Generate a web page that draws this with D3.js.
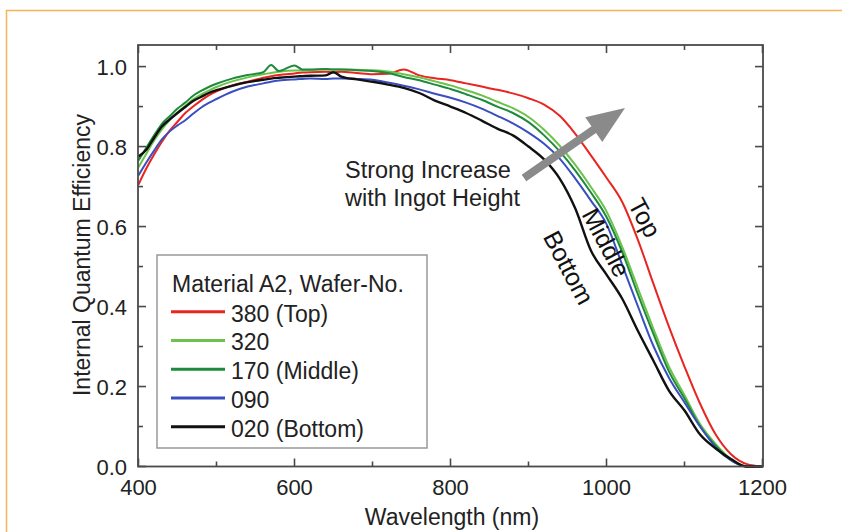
<!DOCTYPE html>
<html><head><meta charset="utf-8">
<script src="https://cdn.jsdelivr.net/npm/d3@7"></script>
<style>body{margin:0;background:#fff}svg{display:block;font-family:"Liberation Sans",Arial,sans-serif}</style>
</head><body><svg id="c" width="842" height="532"></svg>
<script>
const wavelength = [400,410,420,430,440,450,460,470,480,490,500,520,540,560,570,580,600,610,620,640,650,660,680,700,720,740,760,780,800,820,840,860,880,900,920,940,960,980,1000,1020,1040,1060,1080,1100,1120,1140,1160,1180,1200];
const iqe380 = [.705,.745,.78,.812,.84,.862,.884,.9,.915,.928,.938,.953,.962,.972,.976,.979,.983,.985,.986,.987,.986,.987,.984,.981,.982,.993,.978,.971,.966,.958,.95,.942,.933,.921,.905,.877,.832,.778,.722,.662,.568,.458,.35,.25,.157,.08,.03,.006,0];
const iqe320 = [.748,.782,.815,.843,.866,.886,.902,.918,.93,.94,.949,.963,.973,.981,.984,.987,.99,.99,.991,.993,.993,.993,.992,.991,.988,.981,.973,.963,.953,.941,.928,.912,.896,.874,.842,.802,.754,.699,.638,.55,.447,.345,.25,.178,.106,.056,.018,0,0];
const iqe170 = [.765,.797,.828,.857,.876,.895,.91,.927,.939,.949,.957,.97,.979,.986,1.004,.989,1.003,.993,.993,.994,.993,.993,.991,.989,.984,.974,.966,.955,.944,.931,.917,.9,.884,.861,.828,.788,.74,.685,.624,.537,.432,.332,.238,.17,.1,.052,.015,0,0];
const iqe090 = [.728,.76,.79,.818,.838,.853,.866,.882,.897,.909,.919,.937,.95,.958,.962,.965,.968,.969,.97,.969,.97,.97,.969,.967,.96,.952,.943,.932,.922,.91,.895,.877,.858,.835,.807,.77,.72,.665,.606,.505,.402,.302,.222,.16,.1,.048,.015,0,0];
const iqe020 = [.775,.792,.822,.85,.868,.884,.899,.914,.924,.934,.941,.952,.961,.967,.97,.972,.975,.976,.977,.978,.986,.975,.968,.962,.955,.947,.934,.915,.9,.884,.865,.845,.828,.8,.768,.72,.645,.54,.48,.42,.34,.265,.19,.14,.08,.045,.018,0,0];
const seriesNames = ["380 (Top)","320","170 (Middle)","090","020 (Bottom)"];
const seriesColors = ["#e8251f","#6cc24a","#1e8a3c","#3a4ec0","#111111"];
const seriesValues = [iqe380, iqe320, iqe170, iqe090, iqe020];
const xTicks = [400,600,800,1000,1200];
const xMinor = [500,700,900,1100];
const yTicks = [0,0.2,0.4,0.6,0.8,1.0];
const yMinor = [0.1,0.3,0.5,0.7,0.9];
const legendTitle = "Material A2, Wafer-No.";
const curveLabels = ["Top","Middle","Bottom"];
const annotation = ["Strong Increase","with Ingot Height"];

const svg = d3.select("#c");
const L=138, R=763, T=45, B=466.5;
const x = d3.scaleLinear().domain([400,1200]).range([L+0.5,R-0.5]);
const y = d3.scaleLinear().domain([0,1.054]).range([B,T]);

// orange page border
svg.append("path").attr("d","M6.5,532V10.5H842").attr("fill","none").attr("stroke","#f6b556").attr("stroke-width",1.5);

// curves
const line = d3.line().x((d,i)=>x(wavelength[i])).y(d=>y(d)).curve(d3.curveMonotoneX);
const g = svg.append("g");
seriesValues.forEach((vals,k)=>{
  g.append("path").attr("d",line(vals)).attr("fill","none")
   .attr("stroke",seriesColors[k]).attr("stroke-width",k===4?2.4:2).attr("stroke-linejoin","round");
});

// frame and ticks
const tickCol="#4a4a4a";
svg.append("rect").attr("x",L).attr("y",T).attr("width",R-L).attr("height",B-T)
  .attr("fill","none").attr("stroke",tickCol).attr("stroke-width",1.8);
const ax = svg.append("g").attr("stroke",tickCol).attr("stroke-width",1.6);
xTicks.forEach(v=>{ax.append("line").attr("x1",x(v)).attr("x2",x(v)).attr("y1",B).attr("y2",B-8);
  ax.append("line").attr("x1",x(v)).attr("x2",x(v)).attr("y1",T).attr("y2",T+8);});
xMinor.forEach(v=>{ax.append("line").attr("x1",x(v)).attr("x2",x(v)).attr("y1",B).attr("y2",B-5);
  ax.append("line").attr("x1",x(v)).attr("x2",x(v)).attr("y1",T).attr("y2",T+5);});
yTicks.forEach(v=>{ax.append("line").attr("y1",y(v)).attr("y2",y(v)).attr("x1",L).attr("x2",L+8);
  ax.append("line").attr("y1",y(v)).attr("y2",y(v)).attr("x1",R).attr("x2",R-8);});
yMinor.forEach(v=>{ax.append("line").attr("y1",y(v)).attr("y2",y(v)).attr("x1",L).attr("x2",L+5);
  ax.append("line").attr("y1",y(v)).attr("y2",y(v)).attr("x1",R).attr("x2",R-5);});

const txt="#222";
svg.append("g").selectAll("text").data(xTicks).join("text")
  .attr("x",d=>x(d)).attr("y",495).attr("text-anchor","middle").attr("font-size",22).attr("fill",txt).text(d=>d);
svg.append("g").selectAll("text").data(yTicks).join("text")
  .attr("x",127).attr("y",d=>y(d)+8).attr("text-anchor","end").attr("font-size",22).attr("fill",txt).text(d=>d.toFixed(1));
svg.append("text").attr("x",452).attr("y",525).attr("text-anchor","middle").attr("font-size",23).attr("fill",txt).text("Wavelength (nm)");
svg.append("text").attr("transform","translate(89.5,255) rotate(-90)").attr("text-anchor","middle").attr("font-size",23).attr("fill",txt).text("Internal Quantum Efficiency");

// legend
const lg = svg.append("g");
lg.append("rect").attr("x",157).attr("y",255).attr("width",270).attr("height",193).attr("fill","#fff").attr("stroke","#999").attr("stroke-width",1.5);
lg.append("text").attr("x",172).attr("y",291.5).attr("font-size",23).attr("fill",txt).text(legendTitle);
seriesNames.forEach((n,k)=>{
  const cy = 311.7 + k*28.75;
  lg.append("line").attr("x1",171).attr("x2",225).attr("y1",cy).attr("y2",cy).attr("stroke",seriesColors[k]).attr("stroke-width",3);
  lg.append("text").attr("x",231).attr("y",cy+10).attr("font-size",23).attr("fill",txt).text(n);
});

// annotation
svg.append("text").attr("x",345).attr("y",178).attr("font-size",23.5).attr("fill",txt).text(annotation[0]);
svg.append("text").attr("x",345).attr("y",206).attr("font-size",23.5).attr("fill",txt).text(annotation[1]);
// arrow
const sx=524, sy=178, tx=625, ty=108;
const dx=tx-sx, dy=ty-sy, len=Math.hypot(dx,dy), ux=dx/len, uy=dy/len, nx=-uy, ny=ux;
const hl=38, hw=15, sw=4;
const bx=tx-ux*hl, by=ty-uy*hl;
const pts=[[sx+nx*sw,sy+ny*sw],[bx+nx*sw,by+ny*sw],[bx+nx*hw,by+ny*hw],[tx,ty],[bx-nx*hw,by-ny*hw],[bx-nx*sw,by-ny*sw],[sx-nx*sw,sy-ny*sw]];
svg.append("path").attr("d","M"+pts.map(p=>p.join(",")).join("L")+"Z").attr("fill","#8a8a8a");

// rotated curve labels
const labPos=[[645,217.5],[606.5,242.5],[569,267.5]];
curveLabels.forEach((t,k)=>{
  svg.append("text").attr("transform",`translate(${labPos[k][0]},${labPos[k][1]}) rotate(62)`)
    .attr("text-anchor","middle").attr("dominant-baseline","central").attr("font-size",25).attr("fill","#111").text(t);
});
</script></body></html>
